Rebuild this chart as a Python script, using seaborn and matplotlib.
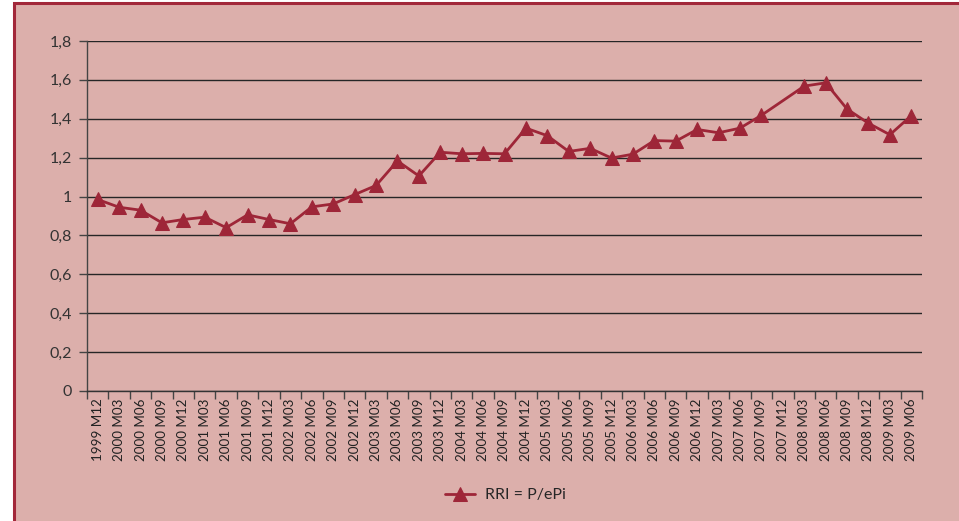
import numpy as np
import pandas as pd
import matplotlib
matplotlib.use("Agg")
import matplotlib.pyplot as plt
from matplotlib.patches import Rectangle
import seaborn as sns

# 季度標籤
periods = [
    "1999 M12",
    "2000 M03", "2000 M06", "2000 M09", "2000 M12",
    "2001 M03", "2001 M06", "2001 M09", "2001 M12",
    "2002 M03", "2002 M06", "2002 M09", "2002 M12",
    "2003 M03", "2003 M06", "2003 M09", "2003 M12",
    "2004 M03", "2004 M06", "2004 M09", "2004 M12",
    "2005 M03", "2005 M06", "2005 M09", "2005 M12",
    "2006 M03", "2006 M06", "2006 M09", "2006 M12",
    "2007 M03", "2007 M06", "2007 M09", "2007 M12",
    "2008 M03", "2008 M06", "2008 M09", "2008 M12",
    "2009 M03", "2009 M06",
]

# RRI = P/ePi (2007 M12 沒有資料)
rri = [
    0.985,
    0.945, 0.93, 0.865, 0.882,
    0.894, 0.84, 0.906, 0.882,
    0.86, 0.947, 0.962, 1.01,
    1.057, 1.183, 1.106, 1.228,
    1.22, 1.222, 1.22, 1.352,
    1.313, 1.232, 1.248, 1.198,
    1.218, 1.288, 1.285, 1.345,
    1.328, 1.352, 1.418, np.nan,
    1.568, 1.585, 1.45, 1.377,
    1.318, 1.416,
]

series_name = "RRI = P/ePi"
y_ticks = [0, 0.2, 0.4, 0.6, 0.8, 1.0, 1.2, 1.4, 1.6, 1.8]
y_tick_labels = ["0", "0,2", "0,4", "0,6", "0,8", "1", "1,2", "1,4", "1,6", "1,8"]

pink = "#DCAFAB"
red = "#A2283A"
line_red = "#9E2638"

sns.set_style("white")
plt.rcParams["font.family"] = ["Lato", "DejaVu Sans"]

df = pd.DataFrame({"pos": np.arange(len(periods)), "period": periods, "value": rri})
df_plot = df.dropna()

fig = plt.figure(figsize=(9.59, 5.21), dpi=100)
fig.patch.set_facecolor("white")
# 背景面板
fig.patches.append(Rectangle((13.5 / 959, -0.1), 1.2, 1 - 2.5 / 521 + 0.1,
                             transform=fig.transFigure, facecolor=pink,
                             edgecolor=red, linewidth=2.2, zorder=-10))

ax = fig.add_axes([87 / 959, 1 - 391 / 521, (922 - 87) / 959, (391 - 41) / 521])
ax.set_facecolor("none")
ax.set_zorder(1)

sns.lineplot(data=df_plot, x="pos", y="value", ax=ax, color=line_red,
             linewidth=2.0, marker="^", markersize=10, markeredgecolor=line_red,
             label=series_name, zorder=3)

ax.set_xlim(-0.5, len(periods) - 0.5)
ax.set_ylim(0, 1.8)
ax.set_yticks(y_ticks)
ax.set_yticklabels(y_tick_labels, fontsize=11.5, color="#333333")
ax.yaxis.grid(True, color="#262626", linewidth=1.0)
ax.xaxis.grid(False)

# 類別邊界刻度 + 置中標籤
ax.set_xticks(np.arange(-0.5, len(periods), 1.0))
ax.set_xticklabels([])
ax.set_xticks(np.arange(len(periods)), minor=True)
ax.set_xticklabels(periods, minor=True, rotation=90, fontsize=9.6, color="#222222")
ax.tick_params(axis="x", which="major", direction="out", length=6, width=1, color="#444444")
ax.tick_params(axis="x", which="minor", length=0, pad=5.5)
ax.tick_params(axis="y", direction="out", length=6, width=1, color="#444444", pad=5)
ax.tick_params(left=True, bottom=True)
ax.set_xlabel("")
ax.set_ylabel("")

for side in ["top", "right"]:
    ax.spines[side].set_visible(False)
ax.spines["left"].set_color("#444444")
ax.spines["bottom"].set_color("#333333")
ax.spines["left"].set_linewidth(1.0)
ax.spines["bottom"].set_linewidth(1.0)

ax.legend_.remove()
handles, labels = ax.get_legend_handles_labels()
fig.legend(handles, labels, loc="center", bbox_to_anchor=(505 / 959, 1 - 495 / 521),
           frameon=False, fontsize=11.5, handlelength=1.9, handletextpad=0.6)

fig.savefig("out.png", dpi=100, facecolor=fig.get_facecolor())
